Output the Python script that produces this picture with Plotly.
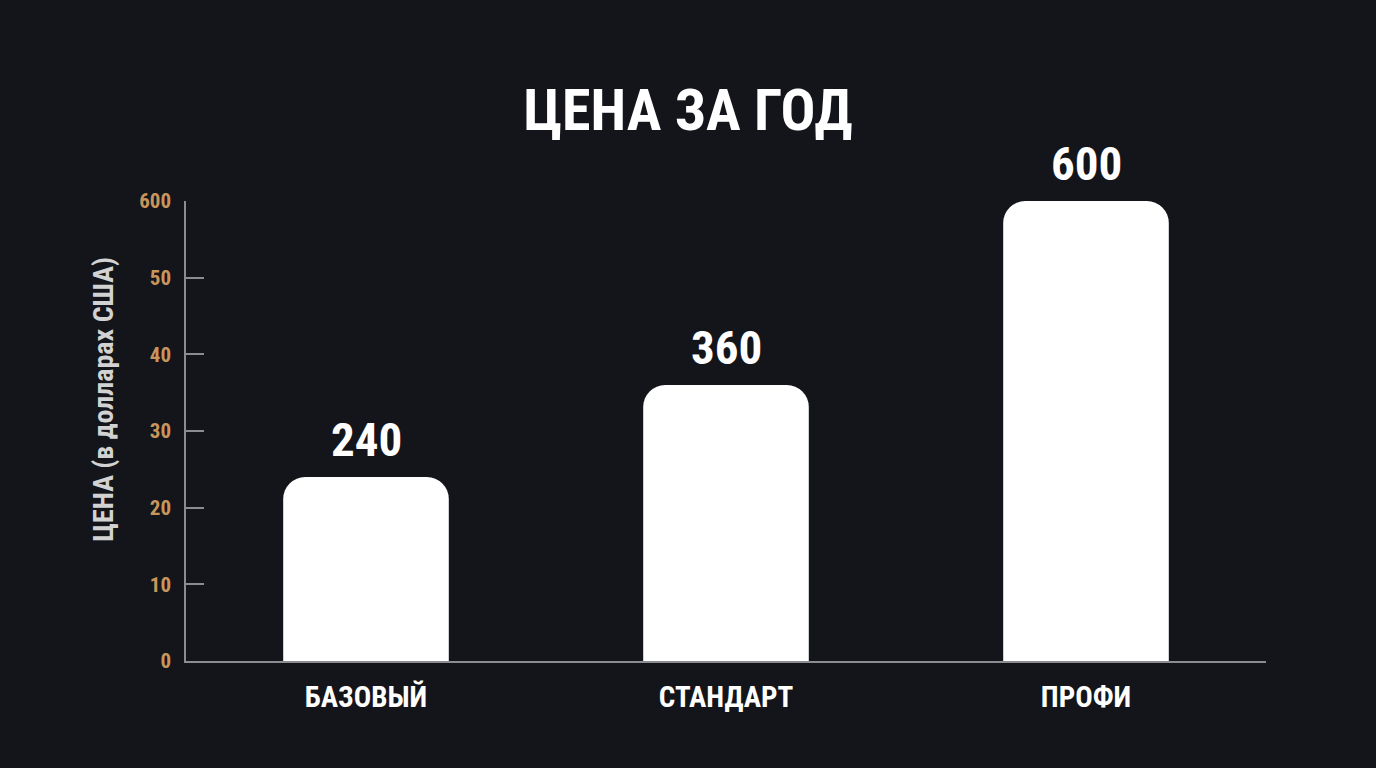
import plotly.graph_objects as go

categories = ["БАЗОВЫЙ", "СТАНДАРТ", "ПРОФИ"]
bar_heights = [24, 36, 60]
bar_labels = ["240", "360", "600"]
y_tickvals = [0, 10, 20, 30, 40, 50, 60]
y_ticktext = ["0", "10", "20", "30", "40", "50", "600"]

FONT = "Roboto Condensed, Open Sans Condensed, DejaVu Sans Condensed, sans-serif"
BG = "#13151a"

fig = go.Figure(
    go.Bar(
        x=categories,
        y=bar_heights,
        marker=dict(color="white", cornerradius=22, line=dict(width=0)),
        cliponaxis=False,
        hoverinfo="skip",
    )
)

for cat, h, lab in zip(categories, bar_heights, bar_labels):
    fig.add_annotation(
        x=cat, y=h, xref="x", yref="y",
        text=lab, showarrow=False,
        xanchor="center", yanchor="bottom", yshift=8,
        font=dict(family=FONT, size=47, color="white", weight="bold"),
    )

# y-axis title (placed slightly above the plot's vertical centre, as in the original)
fig.add_annotation(
    x=-0.076, y=0.57, xref="paper", yref="paper",
    text="ЦЕНА (в долларах США)", showarrow=False, textangle=-90,
    xanchor="center", yanchor="middle",
    font=dict(family=FONT, size=28, color="#d2d2d2", weight="bold"),
)

fig.update_layout(
    width=1376,
    height=768,
    paper_bgcolor=BG,
    plot_bgcolor=BG,
    margin=dict(l=186, r=110, t=201, b=107),
    bargap=0.54,
    showlegend=False,
    title=dict(
        text="ЦЕНА ЗА ГОД",
        x=0.5,
        xanchor="center",
        y=1 - 110 / 768,
        yanchor="middle",
        yref="container",
        font=dict(family=FONT, size=58, color="white", weight="bold"),
    ),
)

fig.update_xaxes(
    showline=True,
    linecolor="#8a8c90",
    linewidth=2,
    showgrid=False,
    zeroline=False,
    ticks="",
    tickfont=dict(family=FONT, size=29, color="white", weight="bold"),
    ticklabelstandoff=9,
    fixedrange=True,
)

fig.update_yaxes(
    range=[0, 60],
    showline=True,
    linecolor="#8a8c90",
    linewidth=1.5,
    showgrid=False,
    zeroline=False,
    ticks="inside",
    ticklen=18,
    tickwidth=1.5,
    tickcolor="#8a8c90",
    tickvals=y_tickvals,
    ticktext=y_ticktext,
    tickfont=dict(family=FONT, size=21, color="#c9955c", weight="bold"),
    ticklabelstandoff=9,
    fixedrange=True,
)

fig.write_html("out.html", config=dict(displayModeBar=False))
